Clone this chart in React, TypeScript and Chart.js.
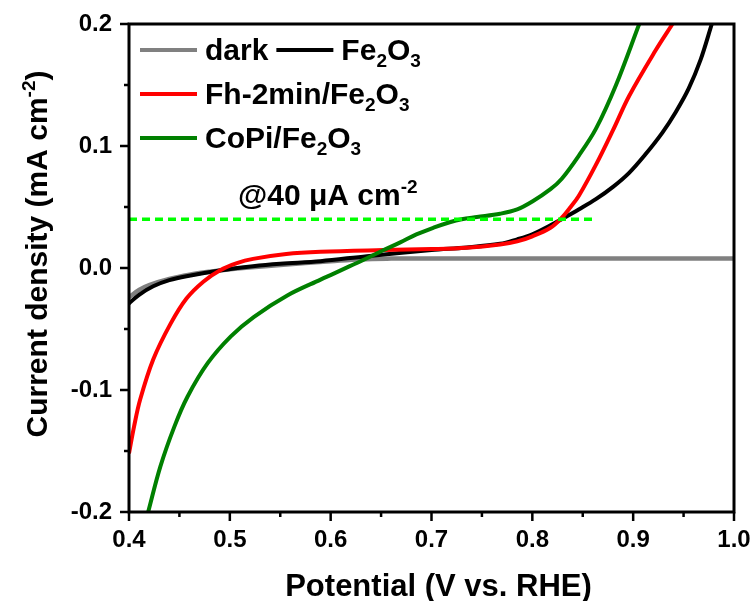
import React, { useEffect, useRef } from 'react';
import { Chart, registerables } from 'chart.js';

Chart.register(...registerables);

const FONT = '"Liberation Sans", Arial, Helvetica, sans-serif';

// Potential (V vs. RHE) / current density (mA cm-2) for each electrode
const darkV = [0.40, 0.41, 0.42, 0.44, 0.46, 0.48, 0.50, 0.55, 0.60, 0.63, 0.66, 0.70, 0.80, 0.90, 1.00];
const darkJ = [-0.024, -0.018, -0.014, -0.009, -0.0055, -0.003, -0.001, 0.0025, 0.0055, 0.0072, 0.0077, 0.0078, 0.0078, 0.0078, 0.0078];

const fe2o3V = [0.40, 0.41, 0.424, 0.44, 0.457, 0.49, 0.523, 0.55, 0.59, 0.636, 0.70, 0.735, 0.768, 0.785, 0.80, 0.818, 0.829, 0.846, 0.863, 0.88, 0.896, 0.912, 0.929, 0.942, 0.955, 0.967, 0.978];
const fe2o3J = [-0.029, -0.022, -0.015, -0.010, -0.0067, -0.002, 0.0015, 0.0035, 0.0056, 0.0097, 0.0147, 0.0168, 0.0198, 0.0235, 0.0276, 0.035, 0.040, 0.048, 0.0564, 0.0665, 0.078, 0.093, 0.111, 0.1275, 0.147, 0.171, 0.200];

const fhV = [0.40, 0.405, 0.411, 0.424, 0.441, 0.457, 0.474, 0.49, 0.507, 0.523, 0.556, 0.59, 0.652, 0.70, 0.735, 0.768, 0.785, 0.80, 0.818, 0.829, 0.838, 0.846, 0.863, 0.88, 0.896, 0.922, 0.939];
const fhJ = [-0.152, -0.130, -0.108, -0.075, -0.046, -0.025, -0.011, -0.002, 0.004, 0.0075, 0.0115, 0.0133, 0.0147, 0.0155, 0.0166, 0.0193, 0.0218, 0.026, 0.033, 0.041, 0.050, 0.059, 0.0845, 0.113, 0.141, 0.178, 0.200];

const copiV = [0.419, 0.431, 0.445, 0.458, 0.478, 0.501, 0.524, 0.557, 0.59, 0.602, 0.619, 0.636, 0.652, 0.669, 0.685, 0.702, 0.718, 0.73, 0.745, 0.768, 0.785, 0.80, 0.818, 0.829, 0.846, 0.863, 0.883, 0.906];
const copiJ = [-0.200, -0.163, -0.130, -0.1055, -0.078, -0.056, -0.040, -0.0225, -0.0095, -0.005, 0.0015, 0.008, 0.0145, 0.021, 0.0275, 0.033, 0.0375, 0.040, 0.0418, 0.0445, 0.048, 0.0545, 0.0646, 0.073, 0.092, 0.114, 0.150, 0.200];

// reference level: 40 uA cm-2 = 0.04 mA cm-2
const refLevel = 0.04;
const refV = [0.40, 0.86];

const xMajor = [0.4, 0.5, 0.6, 0.7, 0.8, 0.9, 1.0];
const xMinor = [0.45, 0.55, 0.65, 0.75, 0.85, 0.95];
const yMajor = [-0.2, -0.1, 0.0, 0.1, 0.2];
const yMinor = [-0.15, -0.05, 0.05, 0.15];

type Part = { t: string; s?: 'sub' | 'sup' };

const legendRows: { color: string; label: Part[] }[][] = [
  [
    { color: '#808080', label: [{ t: 'dark' }] },
    { color: '#000000', label: [{ t: 'Fe' }, { t: '2', s: 'sub' }, { t: 'O' }, { t: '3', s: 'sub' }] },
  ],
  [{ color: '#ff0000', label: [{ t: 'Fh-2min/Fe' }, { t: '2', s: 'sub' }, { t: 'O' }, { t: '3', s: 'sub' }] }],
  [{ color: '#008000', label: [{ t: 'CoPi/Fe' }, { t: '2', s: 'sub' }, { t: 'O' }, { t: '3', s: 'sub' }] }],
];

const refLabel: Part[] = [{ t: '@40 \u03bcA cm' }, { t: '-2', s: 'sup' }];
const yTitle: Part[] = [{ t: 'Current density (mA cm' }, { t: '-2', s: 'sup' }, { t: ')' }];
const xTitle = 'Potential (V vs. RHE)';

function partFont(size: number, p: Part) {
  const fs = p.s ? Math.round(size * 0.62) : size;
  return `bold ${fs}px ${FONT}`;
}

function measureParts(ctx: CanvasRenderingContext2D, parts: Part[], size: number) {
  let w = 0;
  for (const p of parts) {
    ctx.font = partFont(size, p);
    w += ctx.measureText(p.t).width;
  }
  return w;
}

function drawParts(ctx: CanvasRenderingContext2D, parts: Part[], x: number, y: number, size: number) {
  let cx = x;
  ctx.textAlign = 'left';
  ctx.textBaseline = 'alphabetic';
  for (const p of parts) {
    ctx.font = partFont(size, p);
    const dy = p.s === 'sub' ? size * 0.24 : p.s === 'sup' ? -size * 0.4 : 0;
    ctx.fillText(p.t, cx, y + dy);
    cx += ctx.measureText(p.t).width;
  }
  return cx - x;
}

const decorPlugin = {
  id: 'decor',
  afterDatasetsDraw(chart: any) {
    const { ctx, chartArea: a, scales } = chart;
    const x = scales.x;
    const y = scales.y;
    ctx.save();

    // frame
    ctx.strokeStyle = '#000';
    ctx.lineWidth = 3;
    ctx.strokeRect(a.left, a.top, a.right - a.left, a.bottom - a.top);

    // outward ticks on the bottom and left axes
    ctx.lineWidth = 2.5;
    ctx.beginPath();
    for (const v of xMajor) {
      const px = x.getPixelForValue(v);
      ctx.moveTo(px, a.bottom);
      ctx.lineTo(px, a.bottom + 9);
    }
    for (const v of xMinor) {
      const px = x.getPixelForValue(v);
      ctx.moveTo(px, a.bottom);
      ctx.lineTo(px, a.bottom + 5);
    }
    for (const v of yMajor) {
      const py = y.getPixelForValue(v);
      ctx.moveTo(a.left, py);
      ctx.lineTo(a.left - 9, py);
    }
    for (const v of yMinor) {
      const py = y.getPixelForValue(v);
      ctx.moveTo(a.left, py);
      ctx.lineTo(a.left - 5, py);
    }
    ctx.stroke();

    // legend
    ctx.fillStyle = '#000';
    const rowY = [50, 94, 138];
    legendRows.forEach((row, r) => {
      let cx = 140;
      const ly = rowY[r];
      row.forEach((item) => {
        ctx.strokeStyle = item.color;
        ctx.lineWidth = 4;
        ctx.beginPath();
        ctx.moveTo(cx, ly);
        ctx.lineTo(cx + 57, ly);
        ctx.stroke();
        cx += 65;
        const w = drawParts(ctx, item.label, cx, ly + 10, 30);
        cx += w + 8;
      });
    });

    // reference-level label
    drawParts(ctx, refLabel, 238, 205, 30);

    ctx.restore();
  },
  afterDraw(chart: any) {
    const { ctx, chartArea: a } = chart;
    ctx.save();
    ctx.fillStyle = '#000';
    // x title
    ctx.font = `bold 31px ${FONT}`;
    ctx.textAlign = 'center';
    ctx.textBaseline = 'alphabetic';
    ctx.fillText(xTitle, (a.left + a.right) / 2 + 7, 596);
    // y title (rotated)
    const w = measureParts(ctx, yTitle, 30);
    ctx.translate(47, 254);
    ctx.rotate(-Math.PI / 2);
    drawParts(ctx, yTitle, -w / 2, 0, 30);
    ctx.restore();
  },
};

function pts(xs: number[], ys: number[]) {
  return xs.map((v, i) => ({ x: v, y: ys[i] }));
}

// the plot frame is placed by the layout padding alone
function zeroPadding(s: any) {
  s.paddingTop = 0;
  s.paddingBottom = 0;
  s.paddingLeft = 0;
  s.paddingRight = 0;
}

export default function App() {
  const canvasRef = useRef<HTMLCanvasElement | null>(null);

  useEffect(() => {
    const canvas = canvasRef.current;
    if (!canvas) return;
    const curve = (color: string, data: { x: number; y: number }[], width = 4) => ({
      data,
      borderColor: color,
      backgroundColor: color,
      borderWidth: width,
      pointRadius: 0,
      tension: 0.35,
      fill: false,
    });
    const chart = new Chart(canvas, {
      type: 'line',
      data: {
        datasets: [
          {
            ...curve('#00ff00', pts(refV, refV.map(() => refLevel)), 3.5),
            borderDash: [8, 5],
            tension: 0,
          },
          curve('#008000', pts(copiV, copiJ)),
          curve('#ff0000', pts(fhV, fhJ)),
          curve('#000000', pts(fe2o3V, fe2o3J)),
          curve('#808080', pts(darkV, darkJ), 4.5),
        ] as any,
      },
      options: {
        responsive: false,
        animation: false,
        devicePixelRatio: 1,
        layout: { padding: { top: 24, right: 19, left: 0, bottom: 0 } },
        plugins: { legend: { display: false }, tooltip: { enabled: false } },
        scales: {
          x: {
            type: 'linear',
            min: 0.4,
            max: 1.0,
            border: { display: false },
            grid: { display: false, drawTicks: false },
            ticks: {
              stepSize: 0.1,
              padding: 14,
              color: '#000',
              font: { family: FONT, size: 24, weight: 'bold' },
              callback: (v: any) => Number(v).toFixed(1),
            },
            afterFit: (s: any) => {
              s.height = 89;
              zeroPadding(s);
            },
          },
          y: {
            type: 'linear',
            min: -0.2,
            max: 0.2,
            border: { display: false },
            grid: { display: false, drawTicks: false },
            ticks: {
              stepSize: 0.1,
              padding: 17,
              color: '#000',
              font: { family: FONT, size: 24, weight: 'bold' },
              callback: (v: any) => Number(v).toFixed(1),
            },
            afterFit: (s: any) => {
              s.width = 129;
              zeroPadding(s);
            },
          },
        },
      } as any,
      plugins: [decorPlugin],
    });
    return () => chart.destroy();
  }, []);

  return (
    <div style={{ position: 'absolute', left: 0, top: 0, width: 753, height: 601, background: '#fff' }}>
      <canvas ref={canvasRef} width={753} height={601} style={{ display: 'block' }} />
    </div>
  );
}
